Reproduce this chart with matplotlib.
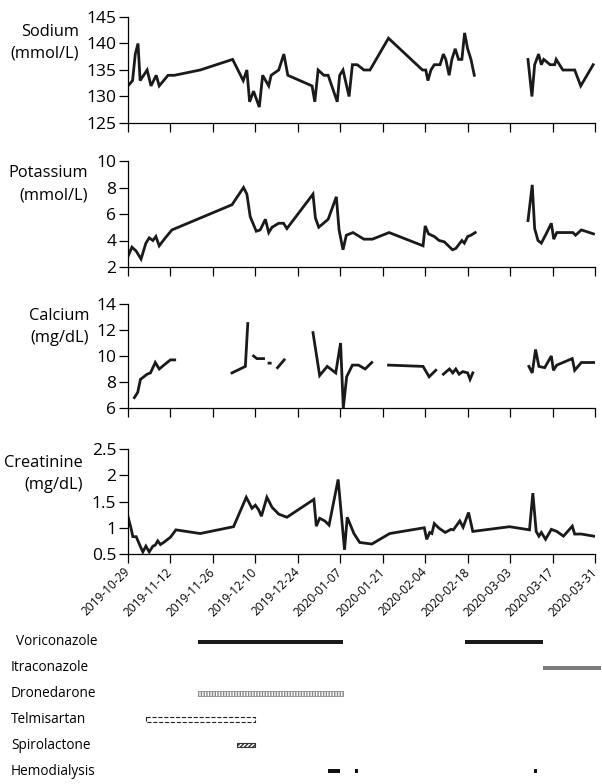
import datetime as dt
import numpy as np
import matplotlib
matplotlib.use('Agg')
import matplotlib.pyplot as plt
import matplotlib.dates as mdates
from matplotlib.ticker import FuncFormatter
from matplotlib.transforms import blended_transform_factory

plt.rcParams.update({
    'font.family': ['Open Sans', 'DejaVu Sans'],
    'font.size': 11,
})

start = dt.date(2019, 10, 29)
nan = np.nan

# lab values, x = days after 2019-10-29 (nan = gap in the line)
na_day = [0, 1.5, 2.4, 3.3, 4, 6.3, 7.6, 9.3, 10.3, 13.2, 15.3, 23.8, 34.5, 38, 39.2, 40.1, 41.4, 43.3,
          44.4, 46.4, 47.2, 49.7, 51.4, 52.7, 60.7, 61.6, 62.7, 64.6, 66, 69, 69.8, 70.9, 72.9, 74,
          75.6, 77.8, 79.8, 85.9, 97.1, 98.2, 98.9, 99.9, 101, 102.9, 104, 104.8, 105.9, 106.8, 107.9,
          109, 110.1, 111, 112, 113.1, 114.2, 123, 131.9, 133.2, 134.1, 135.4, 136.3, 137.1, 139.2,
          140.7, 141.2, 143.4, 147.3, 149.3, 153.4]
na_val = [132, 133, 138, 140, 133, 135, 132, 134, 132, 134, 134, 135, 137, 133, 135, 129, 131, 128,
          134, 132, 134, 135, 138, 134, 132, 129, 135, 134, 134, 129, 134, 135, 130, 136,
          136, 135, 135, 141, 135, 135, 133, 135, 136, 136, 138, 137, 134, 137, 139,
          137, 137, 142, 139, 137, 134, nan, 137, 130, 136, 138, 136, 137, 136,
          136, 137, 135, 135, 132, 136]

k_day = [0, 1.3, 2.7, 4.3, 5.9, 7, 8.2, 9.2, 10.3, 12.3, 14.5, 34.3, 38.1, 39.2, 40.3, 42.3, 43.6,
         45.3, 46.4, 47.5, 49.7, 51.3, 52.4, 61, 61.8, 62.9, 66, 68.7, 69.6, 70.9, 72, 74.2, 77.8,
         80.6, 86.1, 97.3, 98, 99.1, 101, 102.6, 104.3, 107, 108.1, 110.1, 110.9, 112, 113.1, 114.5,
         123, 131.9, 133.3, 134.1, 135.2, 136.3, 137.9, 139.6, 140.4, 141.4, 146.7, 147.6, 149.5, 153.5]
k_val = [2.8, 3.5, 3.2, 2.6, 3.8, 4.2, 4.0, 4.3, 3.6, 4.2, 4.8, 6.7, 8.0, 7.5, 5.8, 4.7, 4.8,
         5.6, 4.6, 5.0, 5.3, 5.3, 4.9, 7.5, 5.7, 5.0, 5.6, 7.3, 4.8, 3.3, 4.4, 4.6, 4.1,
         4.1, 4.6, 3.6, 5.1, 4.5, 4.3, 4.0, 3.9, 3.3, 3.4, 4.0, 3.8, 4.3, 4.4, 4.6,
         nan, 5.5, 8.2, 4.9, 4.0, 3.8, 4.5, 5.3, 4.1, 4.6, 4.6, 4.4, 4.8, 4.5]

ca_day = [2.1, 3.2, 4.1, 5.2, 6.3, 7.4, 9, 10.3, 12.9, 14, 15.4, 25, 34.3, 38.7, 39.5, 40.5, 41.4,
          42.5, 44.7, 45.7, 46.5, 46.9, 48, 49.3, 51.5, 56, 61, 63.2, 65.7, 68.5, 70.1, 71, 72.1, 74,
          76, 78.2, 80.4, 83, 85.9, 97.3, 99.3, 101.5, 103, 104, 106, 107.1, 108.1, 109.2, 110.4,
          112, 112.8, 113.7, 123, 132.2, 133.3, 134.4, 135.5, 137.4, 139.6, 140.3, 141.4, 146.5,
          147.3, 149.5, 153.9]
ca_val = [6.8, 7.2, 8.2, 8.4, 8.6, 8.7, 9.5, 9.0, 9.5, 9.7, 9.7, nan, 8.7, 9.2, 12.5, nan, 10.0,
          9.8, 9.8, nan, 9.45, 9.45, nan, 9.1, 9.7, nan, 11.8, 8.5, 9.2, 8.7, 11.0, 6.0, 8.4, 9.3,
          9.3, 9.0, 9.5, nan, 9.3, 9.2, 8.4, 8.9, nan, 8.6, 9.0, 8.7, 9.0, 8.6, 8.8,
          8.7, 8.2, 8.7, nan, 9.2, 8.7, 10.5, 9.2, 9.1, 10.0, 8.9, 9.3, 9.8,
          8.9, 9.5, 9.5]

cr_day = [0, 1, 1.6, 2.7, 4.1, 4.9, 5.9, 7, 8.2, 9, 9.8, 10.7, 12, 14, 15.8, 23.8, 34.8, 39, 40.9,
          42, 43.1, 44, 45.8, 47.5, 49.7, 52.4, 61.3, 62.1, 63.2, 64.9, 66.3, 69.3, 71.4, 72.3, 74.5,
          76.4, 80.4, 86.3, 97.7, 98.5, 99.5, 100.2, 101, 102.6, 104.6, 106.5, 107.3, 109.4, 110.5,
          112.3, 113.7, 125.8, 132.4, 133.5, 134.6, 135.5, 136.3, 137.7, 139.6, 141.4, 143.6, 146.5,
          147.3, 149.5, 153.6]
cr_val = [1.21, 0.99, 0.83, 0.83, 0.64, 0.54, 0.65, 0.54, 0.65, 0.67, 0.75, 0.68, 0.73, 0.82, 0.96,
          0.89, 1.02, 1.58, 1.37, 1.43, 1.34, 1.22, 1.58, 1.39, 1.26, 1.2, 1.54, 1.03, 1.18, 1.13,
          1.05, 1.92, 0.58, 1.2, 0.89, 0.72, 0.69, 0.89, 1.0, 0.78, 0.91, 0.89, 1.08, 0.99, 0.91,
          0.97, 0.96, 1.13, 1.01, 1.29, 0.93, 1.02, 0.96, 1.66, 0.93, 0.84, 0.91, 0.78, 0.97, 0.93,
          0.84, 1.03, 0.88, 0.88, 0.84]

panel_names = ['Sodium\n(mmol/L)', 'Potassium\n(mmol/L)', 'Calcium\n(mg/dL)', 'Creatinine\n(mg/dL)']
panel_ticks = [[125, 130, 135, 140, 145], [2, 4, 6, 8, 10], [6, 8, 10, 12, 14], [0.5, 1, 1.5, 2, 2.5]]

# treatment periods
drugs = ['Voriconazole', 'Itraconazole', 'Dronedarone', 'Telmisartan', 'Spirolactone', 'Hemodialysis']
periods = [
    [('2019-11-21', '2020-01-08'), ('2020-02-17', '2020-03-14')],
    [('2020-03-14', '2020-04-02')],
    [('2019-11-21', '2020-01-08')],
    [('2019-11-04', '2019-12-10')],
    [('2019-12-04', '2019-12-10')],
    [('2020-01-03', '2020-01-07'), ('2020-01-12', '2020-01-13'), ('2020-03-11', '2020-03-12')],
]

x0 = mdates.date2num(start)
W, H = 602, 784
fig = plt.figure(figsize=(W / 100, H / 100), dpi=100)

# panel boxes in pixels: top, bottom ; label right edge, label centre
boxes = [(17, 123, 79, 43), (161, 267, 88, 184), (304, 408, 89, 327), (449, 554, 83, 474)]
series = [(na_day, na_val), (k_day, k_val), (ca_day, ca_val), (cr_day, cr_val)]
ticks_x = x0 + np.arange(0, 155, 14)

for i, (top, bot, lx, ly) in enumerate(boxes):
    ax = fig.add_axes([128 / W, 1 - bot / H, 467 / W, (bot - top) / H])
    d, v = series[i]
    ax.plot(x0 + np.array(d), v, color='#1a1a1a', lw=2, solid_joinstyle='miter')
    yt = panel_ticks[i]
    ax.set_ylim(yt[0], yt[-1])
    ax.set_yticks(yt)
    ax.yaxis.set_major_formatter(FuncFormatter(lambda y, p: f'{y:g}'))
    ax.set_xlim(x0, x0 + 154)
    ax.set_xticks(ticks_x)
    for s in ['top', 'right']:
        ax.spines[s].set_visible(False)
    for s in ['left', 'bottom']:
        ax.spines[s].set_linewidth(0.9)
    ax.tick_params(direction='out', length=6.5, width=0.9, labelsize=12.5, pad=2)
    if i < 3:
        ax.tick_params(axis='x', labelbottom=False)
    else:
        ax.xaxis.set_major_formatter(mdates.DateFormatter('%Y-%m-%d'))
        plt.setp(ax.get_xticklabels(), rotation=45, ha='right', va='center',
                 rotation_mode='anchor', fontsize=8.6)
        ax.tick_params(axis='x', pad=5)
    fig.text(lx / W, 1 - ly / H, panel_names[i], ha='right', va='center',
             multialignment='right', fontsize=11.8, linespacing=1.5)

# gantt of treatments
gx = fig.add_axes([128 / W, 0, 467 / W, (H - 629) / H])
gx.set_xlim(x0, x0 + 154)
gx.set_ylim(5.5, -0.5)
gx.axis('off')
styles = [
    dict(facecolor='#1a1a1a', edgecolor='none'),
    dict(facecolor='#7a7a7a', edgecolor='none'),
    dict(facecolor='white', edgecolor='#888888', hatch='||||||', lw=0.6),
    dict(facecolor='white', edgecolor='#222222', linestyle='--', lw=0.8),
    dict(facecolor='white', edgecolor='#333333', hatch='////////', lw=0.8),
    dict(facecolor='#111111', edgecolor='none'),
]
heights = [0.17, 0.17, 0.17, 0.2, 0.17, 0.17]
lab_tr = blended_transform_factory(fig.transFigure, gx.transData)
for i, name in enumerate(drugs):
    spans = [(mdates.datestr2num(a), mdates.datestr2num(b) - mdates.datestr2num(a)) for a, b in periods[i]]
    bars = gx.broken_barh(spans, (i - heights[i] / 2, heights[i]), **styles[i])
    bars.set_clip_on(False)
    gx.text(11 / W if i else 16 / W, i, name, transform=lab_tr, ha='left', va='center', fontsize=9.8)

fig.savefig('out.png', dpi=100)
